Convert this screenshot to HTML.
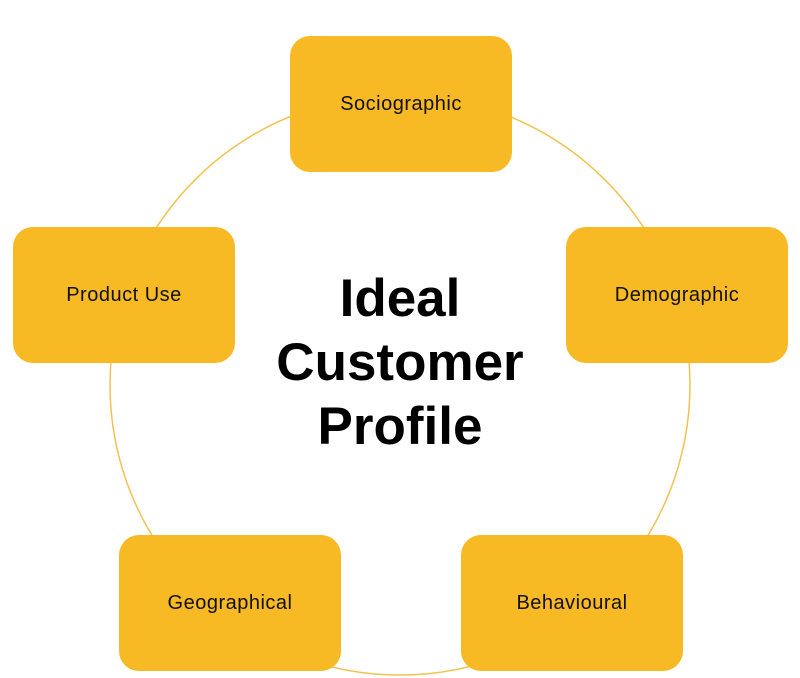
<!DOCTYPE html>
<html><head><style>
body{margin:0;width:800px;height:678px;background:#fff;position:relative;overflow:hidden;font-family:"Liberation Sans",sans-serif}
.b{position:absolute;width:222px;height:136px;background:#F7B924;border-radius:20px;display:flex;align-items:center;justify-content:center;font-size:20px;color:#111;letter-spacing:0.5px}
.t{position:absolute;left:200px;width:400px;top:267px;text-align:center;font-weight:bold;font-size:53px;line-height:64px;color:#000}
</style></head><body>
<svg width="800" height="678" style="position:absolute;left:0;top:0">
<circle cx="400" cy="385" r="290" fill="none" stroke="#F2C250" stroke-width="1.5"/>
</svg>
<div class="b" style="left:290px;top:36px">Sociographic</div>
<div class="b" style="left:13px;top:227px">Product Use</div>
<div class="b" style="left:566px;top:227px">Demographic</div>
<div class="b" style="left:119px;top:535px">Geographical</div>
<div class="b" style="left:461px;top:535px">Behavioural</div>
<div class="t">Ideal<br>Customer<br>Profile</div>
</body></html>
